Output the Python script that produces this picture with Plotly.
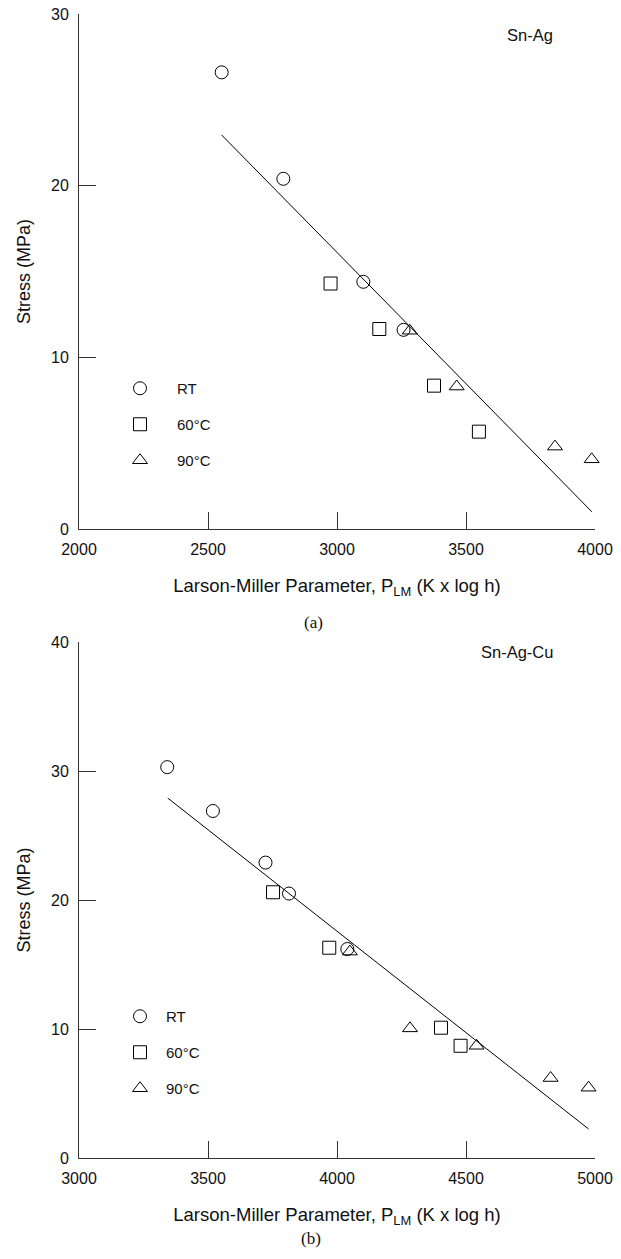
import plotly.graph_objects as go

# ---------------- data (a) Sn-Ag ----------------
a_rt_x = [2553, 2792, 3102, 3258]
a_rt_y = [26.6, 20.4, 14.4, 11.6]
a_60_x = [2975, 3164, 3376, 3550]
a_60_y = [14.3, 11.65, 8.35, 5.67]
a_90_x = [3282, 3464, 3845, 3987]
a_90_y = [11.55, 8.3, 4.8, 4.06]
a_fit_x = [2553, 3988]
a_fit_y = [22.95, 1.0]

# ---------------- data (b) Sn-Ag-Cu ----------------
b_rt_x = [3342, 3519, 3723, 3814, 4040]
b_rt_y = [30.3, 26.9, 22.9, 20.5, 16.2]
b_60_x = [3752, 3970, 4403, 4479]
b_60_y = [20.6, 16.3, 10.1, 8.7]
b_90_x = [4050, 4283, 4541, 4828, 4975]
b_90_y = [16.0, 10.05, 8.7, 6.2, 5.45]
b_fit_x = [3344, 4975]
b_fit_y = [27.9, 2.25]

series_names = ["RT", "60°C", "90°C"]
symbols = ["circle-open", "square-open", "triangle-up-open"]
sizes = [13, 13, 13]

FONT = "Liberation Sans, Arial, sans-serif"
AX = "#333333"

fig = go.Figure()

def add_panel(xs, ys, fitx, fity, xa, ya, legend, tag):
    for i, (x, y) in enumerate(zip(xs, ys)):
        fig.add_trace(go.Scatter(
            x=x, y=y, mode="markers", name=series_names[i],
            marker=dict(symbol=symbols[i], size=sizes[i], color="black",
                        line=dict(width=1, color="black")),
            xaxis=xa, yaxis=ya, legend=legend,
            legendgroup=f"{tag}{i}", cliponaxis=False, showlegend=True))
    fig.add_trace(go.Scatter(
        x=fitx, y=fity, mode="lines", line=dict(color="black", width=1),
        xaxis=xa, yaxis=ya, showlegend=False, cliponaxis=False))

add_panel([a_rt_x, a_60_x, a_90_x], [a_rt_y, a_60_y, a_90_y], a_fit_x, a_fit_y,
          "x", "y", "legend", "a")
add_panel([b_rt_x, b_60_x, b_90_x], [b_rt_y, b_60_y, b_90_y], b_fit_x, b_fit_y,
          "x2", "y2", "legend2", "b")

W, H = 621, 1259
L, R, T, B = 79, 26, 14, 101
ph = H - T - B

def py(p):
    return (H - B - p) / ph

def px(p):
    return (p - L) / (W - L - R)

axis_common = dict(showline=True, linecolor=AX, linewidth=1, ticks="inside",
                   ticklen=17, tickcolor=AX, tickwidth=1, showgrid=False,
                   zeroline=False, mirror=False,
                   tickfont=dict(family=FONT, size=16, color="#111"))

xtitle = dict(text="Larson-Miller Parameter, P<sub>LM</sub> (K x log h)",
              font=dict(family=FONT, size=18.5, color="#111"), standoff=21)
ytitle = dict(text="Stress (MPa)", font=dict(family=FONT, size=18, color="#111"),
              standoff=15)

fig.update_layout(
    width=W, height=H, margin=dict(l=L, r=R, t=T, b=B, autoexpand=False),
    paper_bgcolor="white", plot_bgcolor="white",
    xaxis=dict(domain=[0, 1], range=[2000, 4000], dtick=500, tick0=2000,
               anchor="y", title=xtitle, ticklabelstandoff=6, **axis_common),
    yaxis=dict(domain=[py(529), 1], range=[0, 30], dtick=10, anchor="x",
               title=ytitle, ticklabelstandoff=6, **axis_common),
    xaxis2=dict(domain=[0, 1], range=[3000, 5000], dtick=500, tick0=3000,
                anchor="y2", title=xtitle, ticklabelstandoff=6, **axis_common),
    yaxis2=dict(domain=[0, py(642)], range=[0, 40], dtick=10, anchor="x2",
                title=ytitle, ticklabelstandoff=6, **axis_common),
    legend=dict(x=px(103), y=py(372), xanchor="left", yanchor="top",
                bgcolor="rgba(0,0,0,0)", traceorder="grouped", tracegroupgap=13.5,
                itemwidth=64, font=dict(family=FONT, size=15, color="#111")),
    legend2=dict(x=px(114), y=py(1000), xanchor="left", yanchor="top",
                 bgcolor="rgba(0,0,0,0)", traceorder="grouped", tracegroupgap=13.5,
                 itemwidth=42, font=dict(family=FONT, size=15, color="#111")),
    annotations=[
        dict(text="Sn-Ag", x=px(555), y=py(24), xref="paper", yref="paper",
             showarrow=False, font=dict(family=FONT, size=16.5, color="#111")),
        dict(text="Sn-Ag-Cu", x=px(555), y=py(652), xref="paper", yref="paper",
             showarrow=False, font=dict(family=FONT, size=16.5, color="#111")),
        dict(text="(a)", x=px(313), y=py(622), xref="paper", yref="paper",
             showarrow=False,
             font=dict(family="Liberation Serif, Times New Roman, serif", size=17,
                       color="#111")),
        dict(text="(b)", x=px(311), y=py(1250), xref="paper", yref="paper",
             showarrow=False,
             font=dict(family="Liberation Serif, Times New Roman, serif", size=17,
                       color="#111")),
    ],
)

fig.write_html("out.html")
